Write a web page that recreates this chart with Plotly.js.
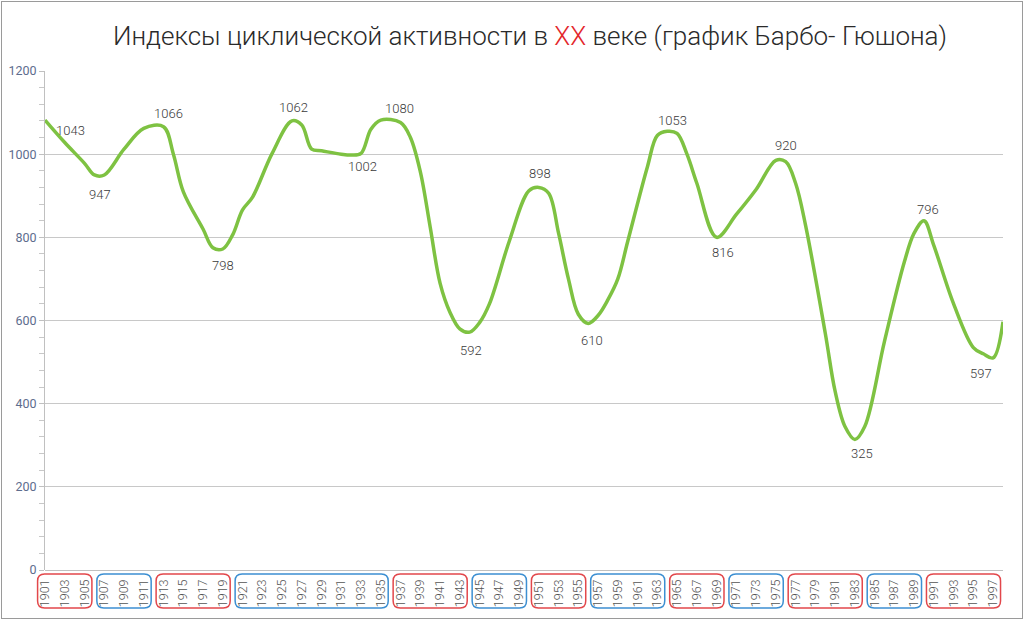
<!DOCTYPE html>
<html>
<head>
<meta charset="utf-8">
<script src="https://cdn.plot.ly/plotly-3.0.1.min.js"></script>
<style>
  html, body { margin: 0; padding: 0; background: #fff; }
  #wrap { position: relative; width: 1024px; height: 620px; }
  #chart { position: absolute; left: 0; top: 0; width: 1024px; height: 620px; }
  #frame { position: absolute; left: 1px; top: 1px; width: 1020px; height: 616px; border: 1px solid #9a9a9a; pointer-events: none; }
</style>
</head>
<body>
<div id="wrap"><div id="chart"></div><div id="frame"></div></div>
<script>
// Curve (year, index value)
const years = [1901,1903,1905,1906,1907,1909,1911,1913,1914,1915,1917,1918,1919,1920,1921,1922,1924,1926,1927,1928,1929,1931,1932,1933,1934,1935,1937,1938,1939,1940,1941,1942,1943,1944,1945,1946,1948,1950,1951,1952,1953,1954,1955,1956,1957,1958,1959,1960,1962,1963,1964,1965,1966,1967,1969,1971,1973,1975,1976,1977,1978,1980,1981,1982,1983,1984,1986,1988,1989,1990,1991,1993,1995,1996,1997,1998];
const values = [1082,1028,978,950,950,1012,1062,1066,1000,910,820,775,772,806,866,896,1002,1080,1070,1012,1008,1000,998,1002,1060,1082,1076,1040,958,825,690,620,580,572,595,640,790,912,920,906,810,700,615,593,612,650,700,790,970,1045,1055,1050,1000,930,800,855,915,985,982,930,830,570,430,345,314,345,550,740,810,840,780,640,535,520,510,597];

// Data labels as printed on the chart, with where they sit
const labelTexts = ["1043","947","1066","798","1062","1002","1080","592","898","610","1053","816","920","325","796","597"];
const labelYears = [1903.6,1906.6,1913.5,1919.0,1926.2,1933.1,1936.9,1944.1,1951.1,1956.4,1964.5,1969.6,1976.0,1983.7,1990.4,1995.8];
const labelYs    = [1056,904,1098,732,1113,971,1109,529,954,551,1082,763,1022,281,868,473];

// X tick labels (every other year)
const tickYears = [1901,1903,1905,1907,1909,1911,1913,1915,1917,1919,1921,1923,1925,1927,1929,1931,1933,1935,1937,1939,1941,1943,1945,1947,1949,1951,1953,1955,1957,1959,1961,1963,1965,1967,1969,1971,1973,1975,1977,1979,1981,1983,1985,1987,1989,1991,1993,1995,1997];
const tickLabels = tickYears.map(String);

// Cycle groups framed under the axis
const groupFirst = [1901,1907,1913,1921,1937,1945,1951,1957,1965,1971,1977,1985,1991];
const groupLast  = [1905,1911,1919,1935,1943,1949,1955,1963,1969,1975,1983,1989,1997];
const groupKind  = ["up","down","up","down","up","down","up","down","up","down","up","down","up"];

const X0 = 1901, X1 = 1998;
const plotW = 958, plotH = 499;
const kindColor = { up: "#e2474b", down: "#3c8fd2" };

function xp(year) { return (year - X0) / (X1 - X0); }

const shapes = groupFirst.map((f, i) => {
  const x0 = xp(f - 0.75), x1 = xp(groupLast[i] + 0.75);
  const yt = -4 / plotH, yb = -38 / plotH;
  const rx = 7 / plotW, ry = 7 / plotH;
  const path = `M ${x0+rx},${yt} L ${x1-rx},${yt} Q ${x1},${yt} ${x1},${yt-ry} L ${x1},${yb+ry} Q ${x1},${yb} ${x1-rx},${yb} L ${x0+rx},${yb} Q ${x0},${yb} ${x0},${yb+ry} L ${x0},${yt-ry} Q ${x0},${yt} ${x0+rx},${yt} Z`;
  return { type: "path", xref: "paper", yref: "paper", path: path,
           line: { color: kindColor[groupKind[i]], width: 1.5 }, fillcolor: "rgba(0,0,0,0)" };
});

const annotations = labelTexts.map((t, i) => ({
  x: labelYears[i], y: labelYs[i], xref: "x", yref: "y", text: t, showarrow: false,
  font: { family: "Roboto, sans-serif", size: 13, color: "#3a3a3a", weight: 300 }
}));

const trace = {
  x: years, y: values, type: "scatter", mode: "lines",
  line: { color: "#7ec242", width: 3.5, shape: "spline", smoothing: 1 },
  hoverinfo: "skip"
};

const layout = {
  width: 1024, height: 620,
  margin: { l: 45, r: 21, t: 71, b: 50 },
  paper_bgcolor: "#fff", plot_bgcolor: "#fff",
  showlegend: false,
  title: {
    text: 'Индексы циклической активности в <span style="color:#e3262b">XX</span> веке (график Барбо- Гюшона)',
    font: { family: "Roboto, sans-serif", size: 26, color: "#2a2a2a", weight: 300 },
    x: 0.5176, xanchor: "center", y: 0.942, yanchor: "middle", xref: "container", yref: "container"
  },
  xaxis: {
    range: [X0, X1], showgrid: false, zeroline: false, showline: false,
    tickmode: "array", tickvals: tickYears, ticktext: tickLabels, tickangle: -90,
    ticks: "", ticklabelstandoff: 6,
    tickfont: { family: "Roboto, sans-serif", size: 12.5, color: "#555", weight: 300 }
  },
  yaxis: {
    range: [0, 1200], tickmode: "linear", tick0: 0, dtick: 200,
    showgrid: true, gridcolor: "#c8c8c8", gridwidth: 1,
    zeroline: true, zerolinecolor: "#c0c0c0", zerolinewidth: 1,
    showline: true, linecolor: "#c0c0c0", linewidth: 1,
    ticks: "outside", ticklen: 5, tickcolor: "#c0c0c0",
    minor: { dtick: 40, ticks: "outside", ticklen: 5, tickcolor: "#c8c8c8", showgrid: false },
    tickfont: { family: "Roboto, sans-serif", size: 12.5, color: "#5d6d8e" }
  },
  shapes: shapes,
  annotations: annotations
};

Plotly.newPlot("chart", [trace], layout, { displayModeBar: false, staticPlot: true });
</script>
</body>
</html>
